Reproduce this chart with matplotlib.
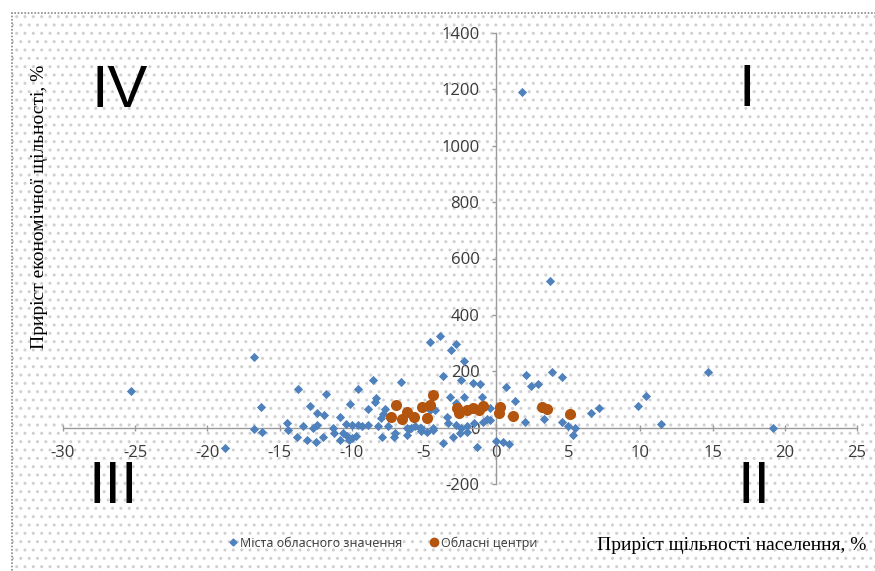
import matplotlib
matplotlib.use("Agg")
import matplotlib.pyplot as plt
from matplotlib.patches import Rectangle
from matplotlib.lines import Line2D

# міста обласного значення (x = приріст щільності населення, y = приріст економічної щільності)
city_x = [-25.3, -18.8, -16.8, -16.8, -16.2, -16.3,
          1.8, 3.7, 14.7, 19.2, 11.4, 10.4, 9.8, 7.1, 6.6,
          5.5, 5.3, 5.0, 4.6, 4.6, 3.9, 3.3, 2.9, 2.4, 2.1, 2.0, 1.3, 0.7, 0.9, 0.5, 0.0, -1.3,
          -13.7, -14.5, -14.4, -13.8, -13.4, -12.9, -12.4, -11.9, -11.8, -13.1, -12.5, -12.0,
          -12.7, -12.4, -11.3, -11.2, -10.8, -10.1, -9.6, -8.9, -8.5, -8.3, -8.4,
          -10.0, -9.6, -9.3, -8.9, -10.4,
          -10.6, -10.3, -10.0, -9.7, -10.8, -10.2,
          -7.9, -8.0, -7.8, -7.7, -7.5, -7.1, -7.0, -6.6, -6.2, -5.6, -5.9, -5.2, -5.2, -8.2,
          -4.6, -3.9, -3.1, -2.8, -3.7, -2.2, -2.4, -1.6, -1.1, -3.2, -2.2, -1.0, -2.8,
          -3.7, -3.0, -3.4, -4.2, -4.6, -4.4, -4.8, -5.3, -6.2,
          -0.4, -0.9, -2.0, -2.4, -2.0, -2.5, -1.7, -0.4, -1.5, -2.8, -3.3, -0.6, -4.4, -6.0]
city_y = [130, -74, 252, -4, -14, 74,
          1190, 521, 199, 0, 14, 113, 78, 71, 53,
          0, -25, 7, 21, 181, 199, 32, 156, 149, 188, 21, 96, 145, -57, -50, -46, -67,
          138, 18, -10, -35, 7, 78, 53, 46, 120, -43, -50, -32,
          0, 11, 0, -18, 39, 85, 138, 67, 170, 106, 92,
          8, 10, 6, 8, 12,
          -20, -30, -38, -28, -44, -45,
          -32, 35, 50, 65, 4, -32, -18, 163, -25, 4, 0, 0, -12, 4,
          305, 326, 277, 297, 184, 238, 170, 160, 156, 110, 110, 110, 88,
          -53, -35, 39, 64, 64, 0, -14, 0, 0,
          28, 21, 7, 0, -14, -18, 71, 71, 15, 10, 18, 30, -8, -5]

# обласні центри
centre_x = [-6.9, -7.3, -6.5, -6.2, -5.7, -5.1, -4.8, -4.4, -4.6, -2.7, -2.6,
            -2.0, -1.6, -0.9, -1.2, 0.3, 0.2, 1.2, 3.2, 3.5, 5.1]
centre_y = [82, 39, 32, 57, 39, 74, 35, 117, 82, 71, 53,
            64, 71, 78, 64, 74, 53, 43, 74, 67, 50]

x_ticks = list(range(-30, 30, 5))
y_ticks = list(range(-200, 1600, 200))

series_names = ["Міста обласного значення", "Обласні центри"]
x_label = "Приріст щільності населення, %"
y_label = "Приріст економічної щільності, %"
quadrants = {"IV": (0.137, 0.839), "I": (0.853, 0.841), "III": (0.130, 0.147), "II": (0.862, 0.147)}

blue = "#4f81bd"
brown = "#b3540f"
axis_grey = "#9a9a9a"
sans = ["Open Sans", "DejaVu Sans"]
serif = ["Liberation Serif", "DejaVu Serif"]

plt.rcParams["hatch.linewidth"] = 1.0
plt.rcParams["axes.unicode_minus"] = False

fig = plt.figure(figsize=(8.75, 5.71), dpi=100)
fig.patch.set_facecolor("white")

# dotted chart-area background and its frame
bg = Rectangle((12 / 875, -0.05), 1.1, 1 - 13 / 571 + 0.05, transform=fig.transFigure,
               facecolor="white", edgecolor="#d0d0d0", hatch="..", linewidth=0, zorder=-3)
fig.add_artist(bg)
frame = Rectangle((12 / 875, -0.05), 1.1, 1 - 13 / 571 + 0.05, transform=fig.transFigure,
                  facecolor="none", edgecolor="#8a8a8a", linewidth=1.2, linestyle=(0, (1, 1)), zorder=-2)
fig.add_artist(frame)

ax = fig.add_axes([63 / 875, 1 - 484 / 571, 794 / 875, 451 / 571])
ax.set_facecolor("none")

ax.scatter(city_x, city_y, marker="D", s=22, color=blue, linewidths=0, zorder=3)
ax.scatter(centre_x, centre_y, marker="o", s=64, color=brown, linewidths=0, zorder=4)

ax.set_xlim(-30, 25)
ax.set_ylim(-200, 1400)
ax.set_xticks(x_ticks)
ax.set_yticks(y_ticks)

ax.spines["left"].set_position(("data", 0))
ax.spines["bottom"].set_position(("data", 0))
ax.spines["top"].set_visible(False)
ax.spines["right"].set_visible(False)
for s in ("left", "bottom"):
    ax.spines[s].set_color(axis_grey)
    ax.spines[s].set_linewidth(1.0)

ax.tick_params(axis="both", colors=axis_grey, width=1, labelcolor="#3a3a3a", labelsize=12)
ax.tick_params(axis="y", direction="out", length=3, pad=9)
ax.tick_params(axis="x", direction="inout", length=5, pad=10)
for lab in ax.get_xticklabels() + ax.get_yticklabels():
    lab.set_family(sans)

# quadrant numerals
for txt, (qx, qy) in quadrants.items():
    fig.text(qx, qy, txt, fontsize=43, family=["Liberation Sans", "DejaVu Sans"],
             ha="center", va="center", color="black")

fig.text(40 / 875, 1 - 207 / 571, y_label, rotation=90, family=serif, fontsize=14,
         ha="center", va="center")
fig.text(866 / 875, 1 - 546 / 571, x_label, family=serif, fontsize=14,
         ha="right", va="center")

handles = [Line2D([], [], linestyle="none", marker="D", markersize=3.5, color=blue),
           Line2D([], [], linestyle="none", marker="o", markersize=6, color=brown)]
fig.legend(handles, series_names, loc="center", bbox_to_anchor=(382 / 875, 1 - 543 / 571),
           ncol=2, frameon=False, prop={"family": sans, "size": 9},
           handletextpad=0.1, columnspacing=2.0, handlelength=1.0, labelcolor="#3a3a3a")

fig.savefig("out.png", dpi=100)
